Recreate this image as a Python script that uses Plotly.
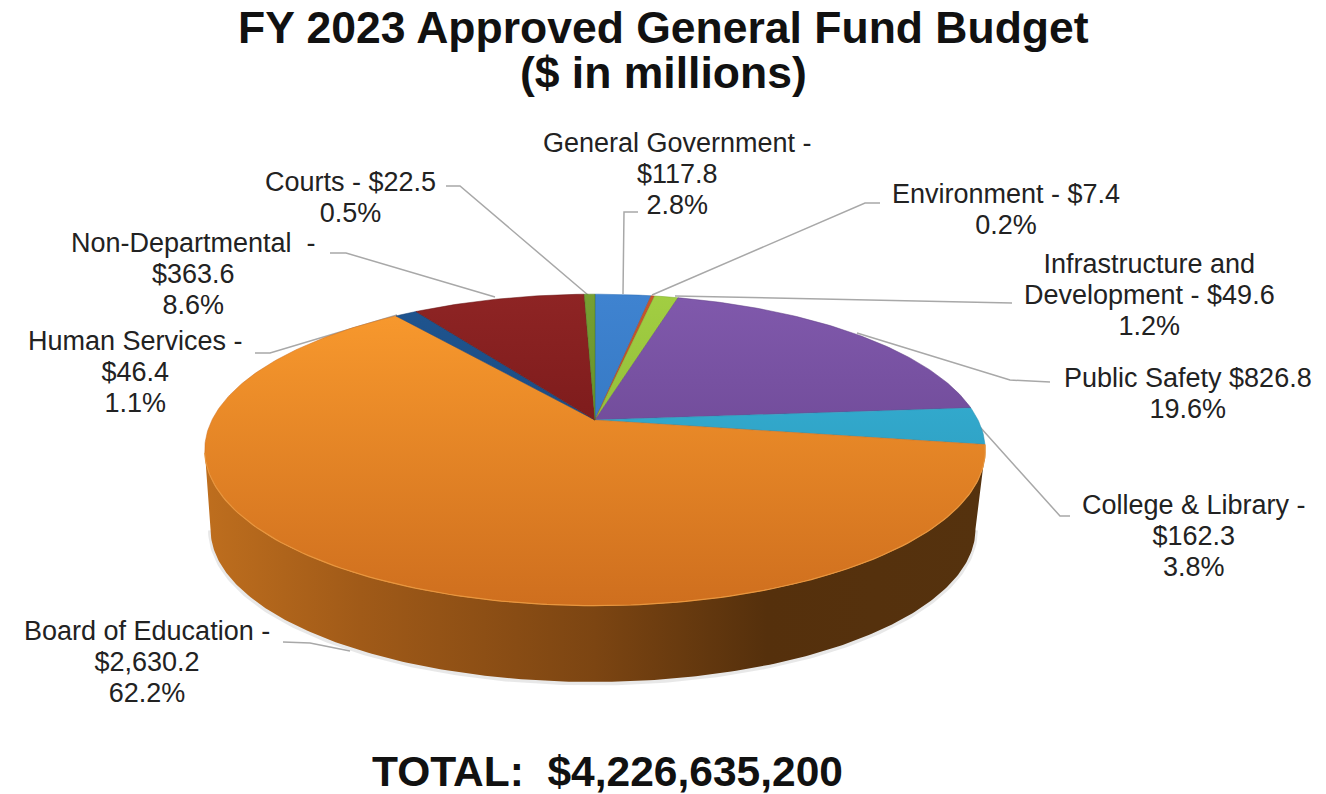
import numpy as np
import plotly.graph_objects as go

categories = ["General Government", "Environment", "Infrastructure and Development",
              "Public Safety", "College & Library", "Board of Education",
              "Human Services", "Non-Departmental", "Courts"]
values = [117.8, 7.4, 49.6, 826.8, 162.3, 2630.2, 46.4, 363.6, 22.5]
percents = [2.8, 0.2, 1.2, 19.6, 3.8, 62.2, 1.1, 8.6, 0.5]
top_colors = ["#3F83D0", "#C9552C", "#A2CE42", "#8059AC", "#36B7DC",
              "#FA9B2E", "#1F5590", "#8E2424", "#76A032"]
low_colors = ["#2A6CB4", "#A8421F", "#7DA930", "#5F3C84", "#2A8FB0",
              "#CE6E1E", "#173F70", "#661010", "#4F7A22"]

title_lines = ["FY 2023 Approved General Fund Budget", "($ in millions)"]
total_text = "TOTAL:  $4,226,635,200"
label_lines = [
    ["General Government -", "$117.8", "2.8%"],
    ["Environment - $7.4", "0.2%"],
    ["Infrastructure and", "Development - $49.6", "1.2%"],
    ["Public Safety $826.8", "19.6%"],
    ["College & Library -", "$162.3", "3.8%"],
    ["Board of Education -", "$2,630.2", "62.2%"],
    ["Human Services -", "$46.4", "1.1%"],
    ["Non-Departmental  -", "$363.6", "8.6%"],
    ["Courts - $22.5", "0.5%"],
]
# centre of each label block
label_center = [(677, 174), (1006, 209), (1149, 295), (1188, 393), (1194, 536),
                (147, 662), (135, 372), (193, 274), (350, 197)]
leaders = [
    [(638, 212), (624, 212), (623, 294)],
    [(880, 203), (865, 203), (652, 295)],
    [(1012, 303), (675, 296)],
    [(1050, 382), (1010, 380), (857, 333)],
    [(1070, 516), (1060, 516), (980, 427)],
    [(283, 642), (310, 643), (350, 651)],
    [(255, 353), (270, 353), (397, 315)],
    [(330, 253), (346, 253), (495, 297)],
    [(446, 186), (460, 186), (588, 295)],
]

# perspective projection of the pie disc on to the page
CX, CY, S, A, P = 595.0, 420.0, 383.0, 150.0, 0.192
DEPTH, BOTTOM_SCALE, BOTTOM_DX = 80.0, 0.98, -2.0
TEXT = "#222222"
FONT = "Liberation Sans"
LABEL_SIZE, LABEL_STEP = 27, 31.2
TITLE_SIZE, TITLE_STEP = 44.5, 45.0


def project(theta, scale=1.0, dy=0.0, dx=0.0):
    u, v = np.cos(theta), np.sin(theta)
    w = 1 - P * v
    return CX + dx + scale * S * u / w, CY + dy + scale * A * v / w


fig = go.Figure()

# soft shadow + side wall, between the outermost points of the rim
rim = np.arcsin(P)
th = np.linspace(rim, np.pi - rim, 240)
xb, yb = project(th, BOTTOM_SCALE, DEPTH, BOTTOM_DX)
xt, yt = project(th)
fig.add_trace(go.Scatter(x=xb, y=yb + 1, mode="lines", line=dict(color="rgba(90,90,90,0.14)", width=5),
                         hoverinfo="skip", showlegend=False))
fig.add_trace(go.Scatter(
    x=np.concatenate([xt, xb[::-1]]), y=np.concatenate([yt, yb[::-1]]),
    mode="lines", fill="toself", line=dict(width=0, color="rgba(0,0,0,0)"),
    fillgradient=dict(type="horizontal", start=205, stop=985,
                      colorscale=[[0, "#BE6E1E"], [0.2, "#A05A18"], [0.5, "#7C4512"],
                                  [0.72, "#55300C"], [1, "#55320E"]]),
    hoverinfo="skip", showlegend=False))

# leader lines
for pts in leaders:
    fig.add_trace(go.Scatter(x=[p[0] for p in pts], y=[p[1] for p in pts], mode="lines",
                             line=dict(color="#A8A8A8", width=1.5), hoverinfo="skip", showlegend=False))

# top surface wedges
vals = np.array(values)
edges = -np.pi / 2 + 2 * np.pi * np.concatenate([[0], np.cumsum(vals)]) / vals.sum()
for i, name in enumerate(categories):
    t = np.linspace(edges[i], edges[i + 1], max(3, int((edges[i + 1] - edges[i]) * 80)))
    x, y = project(t)
    fig.add_trace(go.Scatter(
        x=np.concatenate([[CX], x, [CX]]), y=np.concatenate([[CY], y, [CY]]),
        mode="lines", fill="toself", name=name,
        line=dict(width=0.5, color=low_colors[i]),
        fillgradient=dict(type="vertical", start=295, stop=610,
                          colorscale=[[0, top_colors[i]], [1, low_colors[i]]]),
        hovertemplate=f"{name}: ${values[i]:,.1f} ({percents[i]}%)<extra></extra>",
        showlegend=False))

# rim highlight on the front edge of the largest slice
t = np.linspace(edges[5], edges[6], 200)
t = t[t < np.pi - rim]
x, y = project(t)
fig.add_trace(go.Scatter(x=x, y=y, mode="lines", line=dict(color="#E8963E", width=1.2),
                         hoverinfo="skip", showlegend=False))

anns = []
def add_block(lines, cx, cy, size, step, bold=False, color=TEXT):
    # one text block; the base size sets the line step (1.3 em), the span sets the glyph size
    body = "<br>".join(f'<span style="font-size:{size}px">{ln.replace("  ", "&nbsp;&nbsp;")}</span>'
                       for ln in lines)
    if bold:
        body = f"<b>{body}</b>"
    anns.append(dict(x=cx, y=cy, xref="x", yref="y", text=body,
                     showarrow=False, xanchor="center", yanchor="middle", align="center",
                     font=dict(family=FONT, size=step / 1.3, color=color)))

for lines, (ax, ay) in zip(label_lines, label_center):
    add_block(lines, ax, ay, LABEL_SIZE, LABEL_STEP)

add_block(title_lines, 663, 49.5, TITLE_SIZE, TITLE_STEP, True, "#111111")
add_block([total_text], 607, 771, 42.5, 42.5 * 1.3, True, "#111111")

fig.update_layout(
    width=1326, height=794, margin=dict(l=0, r=0, t=0, b=0),
    paper_bgcolor="white", plot_bgcolor="white", showlegend=False, annotations=anns,
    xaxis=dict(range=[0, 1326], visible=False, fixedrange=True),
    yaxis=dict(range=[794, 0], visible=False, fixedrange=True),
)
fig.write_html("out.html", config=dict(displayModeBar=False),
               post_script="document.body.style.margin='0';")
